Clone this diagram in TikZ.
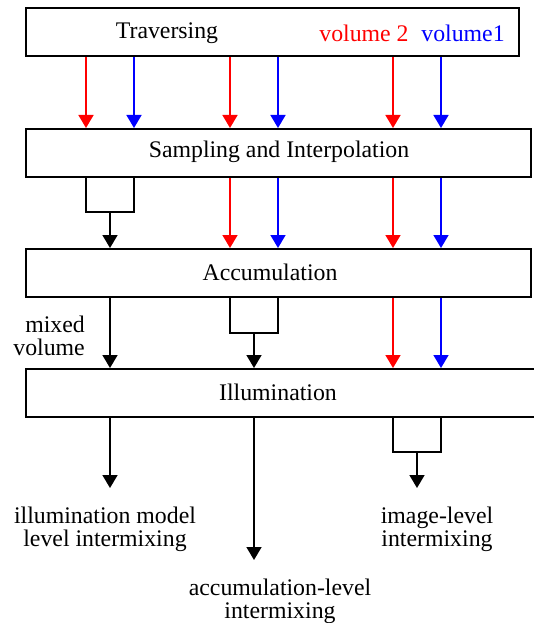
\documentclass[tikz,border=0pt]{standalone}
\usepackage{fontspec}
\setmainfont{Liberation Serif}
\usetikzlibrary{arrows.meta}

\begin{document}
\begin{tikzpicture}[x=1pt,y=-1pt,
    box/.style={draw, line width=2pt, minimum width=#1, minimum height=48pt, inner sep=0pt, anchor=north west},
    lbl/.style={font=\fontsize{23.8}{23}\selectfont, inner sep=0pt, align=center},
    link/.style={line width=1.6pt},
    flow/.style={line width=1.6pt, -{Triangle[width=15pt,length=13pt]}}]
    \useasboundingbox (0,0) rectangle (534,623);
    \node[box=493pt] (trav) at (25,7.5) {};
    \node[box=505pt] (samp) at (25,128) {};
    \node[box=505pt] (accu) at (25,248) {};
    \node[box=520pt] (illu) at (25,368) {};
    \node[lbl] (travlbl) at (167,33) {Traversing};
    \node[lbl, red] (vol2) at (364,33) {volume 2};
    \node[lbl, blue] (vol1) at (463,33) {volume1};
    \node[lbl] (samplbl) at (279,152) {Sampling and Interpolation};
    \node[lbl] (acculbl) at (270,272) {Accumulation};
    \node[lbl] (illulbl) at (278,392) {Illumination};
    \coordinate (r1) at (86,0);
    \coordinate (b1) at (134,0);
    \coordinate (r2) at (230,0);
    \coordinate (b2) at (278,0);
    \coordinate (r3) at (393,0);
    \coordinate (b3) at (441,0);
    \foreach \c/\col in {r1/red,b1/blue,r2/red,b2/blue,r3/red,b3/blue}
        \draw[flow,\col] (\c |- trav.south) -- (\c |- samp.north);
    \foreach \c/\col in {r2/red,b2/blue,r3/red,b3/blue}
        \draw[flow,\col] (\c |- samp.south) -- (\c |- accu.north);
    \foreach \c/\col in {r3/red,b3/blue}
        \draw[flow,\col] (\c |- accu.south) -- (\c |- illu.north);
    \coordinate (j1) at (110,212);
    \coordinate (j2) at (254,333);
    \coordinate (j3) at (417,452);
    \draw[link] (r1 |- samp.south) |- (j1) -| (b1 |- samp.south);
    \draw[flow] (j1) -- (j1 |- accu.north);
    \draw[flow] (j1 |- accu.south) -- (j1 |- illu.north);
    \draw[link] (r2 |- accu.south) |- (j2) -| (b2 |- accu.south);
    \draw[flow] (j2) -- (j2 |- illu.north);
    \draw[link] (r3 |- illu.south) |- (j3) -| (b3 |- illu.south);
    \coordinate (e1) at (110,488);
    \coordinate (e2) at (254,560);
    \coordinate (e3) at (417,488);
    \draw[flow] (j1 |- illu.south) -- (e1);
    \draw[flow] (j2 |- illu.south) -- (e2);
    \draw[flow] (j3) -- (e3);
    \node[lbl, align=right, anchor=east] (mixlbl) at (85,336) {mixed\\volume};
    \node[lbl] (illumix) at (105,529) {illumination model\\level intermixing};
    \node[lbl] (accumix) at (280,601) {accumulation-level\\intermixing};
    \node[lbl] (imgmix) at (437,529) {image-level\\intermixing};
\end{tikzpicture}
\end{document}
